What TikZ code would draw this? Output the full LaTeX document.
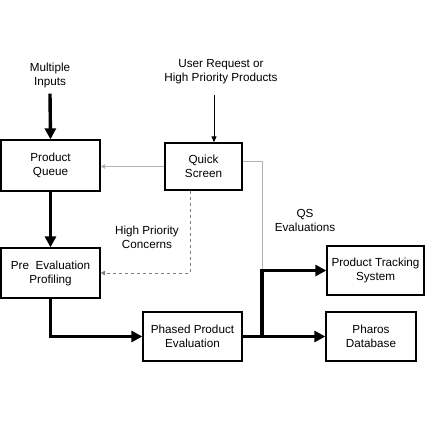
\documentclass[tikz,border=0pt]{standalone}
\usepackage{fontspec}
\setmainfont{Liberation Sans}
\usetikzlibrary{arrows.meta}
\begin{document}
\begin{tikzpicture}[x=1pt,y=1pt,yscale=-1,xscale=1,
  box/.style={draw,line width=1.3pt,align=center,inner sep=0pt,font=\fontsize{11.7}{14}\selectfont},
  lbl/.style={align=center,inner sep=0pt,font=\fontsize{11.7}{14}\selectfont},
  heavy/.style={line width=3.4pt,-{Triangle[length=11pt,width=11pt]}},
  light/.style={draw=black!30,line width=1pt,-{Triangle[length=4.5pt,width=4.5pt]}}]
\useasboundingbox (0,0) rectangle (425,425);
\fill[white] (0,0) rectangle (425,425);
%Shape: Rectangle [Product Queue]
\node[box,minimum width=99pt,minimum height=51pt] (pq) at (50.5,165.5) {Product\\Queue};
%Shape: Rectangle [Quick Screen]
\node[box,minimum width=77pt,minimum height=47pt] (qs) at (203.5,166.5) {Quick\\Screen};
%Shape: Rectangle [Pre Evaluation Profiling]
\node[box,minimum width=99pt,minimum height=50pt] (pep) at (50.5,273) {Pre\ \ Evaluation\\Profiling};
%Shape: Rectangle [Phased Product Evaluation]
\node[box,minimum width=99pt,minimum height=49pt] (ppe) at (192.5,336.5) {Phased Product\\Evaluation};
%Shape: Rectangle [Product Tracking System]
\node[box,minimum width=97pt,minimum height=49pt] (pts) at (375.5,270.5) {Product Tracking\\System};
%Shape: Rectangle [Pharos Database]
\node[box,minimum width=90pt,minimum height=49pt] (pd) at (371,336.5) {Pharos\\Database};

% Text Node
\node[lbl] (mi) at (50,75) {Multiple\\Inputs};
% Text Node
\node[lbl] (ur) at (221,71.5) {User Request or\\High Priority Products};
% Text Node
\node[lbl] (hpc) at (147,237) {High Priority\\Concerns};
% Text Node
\node[lbl] (qse) at (305,220) {QS\\Evaluations};

\coordinate (urin) at (214,95);
\coordinate (br) at (262,270.5);

%Connectors
\draw[heavy] (mi.south) ++(0,6) -- (pq.north);
\draw[line width=1pt,-{Triangle[length=6pt,width=5pt]}] (urin) -- (urin |- qs.north);
\draw[light] (qs.west) -- (qs.west -| pq.east);
\draw[draw=black!50,line width=1pt,dashed,-{Triangle[length=4.5pt,width=4.5pt]}] ([xshift=-13.5pt]qs.south) |- (pep.east);
\draw[draw=black!30,line width=1pt] ([yshift=-5.5pt]qs.east) -| (br);
\draw[heavy] (pq.south) -- (pep.north);
\draw[heavy] (pep.south) |- (ppe.west);
\draw[heavy] (ppe.east) -- (pd.west);
\draw[heavy] (br |- ppe.east) |- (pts.west);
\end{tikzpicture}
\end{document}
